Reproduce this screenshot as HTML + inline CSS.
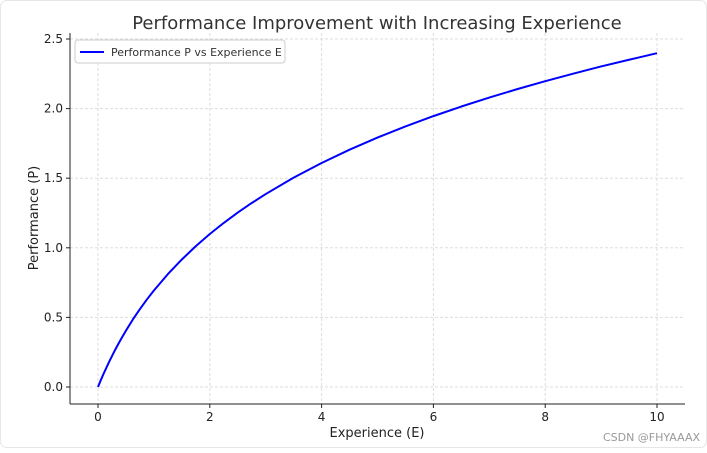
<!DOCTYPE html>
<html><head><meta charset="utf-8"><style>
body{margin:0;background:#fff;}
svg{font-family:"DejaVu Sans","Liberation Sans",sans-serif;}
</style></head><body>
<svg width="707" height="448" viewBox="0 0 707 448">
<rect x="0.5" y="0.5" width="706" height="447" fill="#fff" stroke="#e6e6e6" rx="6"/>
<text x="377" y="29" font-size="18" fill="#333" text-anchor="middle">Performance Improvement with Increasing Experience</text>
<g id="grid"></g>
<line x1="70" y1="33" x2="70" y2="404" stroke="#222"/>
<line x1="70" y1="404" x2="685" y2="404" stroke="#222"/>
<g id="ticks"></g>
<polyline id="line" fill="none" stroke="#0000ff" stroke-width="2" stroke-linejoin="round"/>
<text x="377" y="437" font-size="13" fill="#222" text-anchor="middle">Experience (E)</text>
<text transform="translate(38,218) rotate(-90)" font-size="13" fill="#222" text-anchor="middle">Performance (P)</text>
<g>
<rect x="75" y="40" width="210" height="23" rx="3" fill="#fff" stroke="#ccc"/>
<line x1="80" y1="52" x2="104" y2="52" stroke="#0000ff" stroke-width="2"/>
<text x="111" y="56" font-size="11" fill="#333">Performance P vs Experience E</text>
</g>
<text x="700" y="441" font-size="11" fill="#999" text-anchor="end">CSDN @FHYAAAX</text>
</svg>
<script>
const xs=[0,0.05,0.1,0.2,0.3,0.4,0.5,0.625,0.75,0.875,1,1.25,1.5,1.75,2,2.25,2.5,2.75,3,3.5,4,4.5,5,5.5,6,6.5,7,7.5,8,8.5,9,9.5,10];
const ys=[0,0.049,0.095,0.182,0.262,0.336,0.405,0.486,0.56,0.629,0.693,0.811,0.916,1.012,1.099,1.179,1.253,1.322,1.386,1.504,1.609,1.705,1.792,1.872,1.946,2.015,2.079,2.14,2.197,2.251,2.303,2.351,2.398];
const xTicks=[0,2,4,6,8,10];
const yTicks=[0,0.5,1,1.5,2,2.5];
const X=v=>98+v*55.9, Y=v=>387-v*139.2;
const ns="http://www.w3.org/2000/svg";
const grid=document.getElementById('grid'), ticks=document.getElementById('ticks');
function mk(tag,a,p){const e=document.createElementNS(ns,tag);for(const k in a)e.setAttribute(k,a[k]);p.appendChild(e);return e;}
xTicks.forEach(t=>{
 const g=mk('line',{x1:X(t),x2:X(t),y1:33,y2:404,stroke:'#ddd','stroke-dasharray':'3,2'},grid);
 
 
 const tk=mk('line',{x1:X(t),x2:X(t),y1:404,y2:408,stroke:'#222'},ticks);
 
 
 const l=mk('text',{x:X(t),y:421,'font-size':12,fill:'#222','text-anchor':'middle'},ticks);l.textContent=t;
 
 
});
yTicks.forEach(t=>{
 const g=mk('line',{x1:70,x2:685,y1:Y(t),y2:Y(t),stroke:'#ddd','stroke-dasharray':'3,2'},grid);
 
 
 const tk=mk('line',{x1:66,x2:70,y1:Y(t),y2:Y(t),stroke:'#222'},ticks);
 
 
 const l=mk('text',{x:63,y:Y(t)+4,'font-size':12,fill:'#222','text-anchor':'end'},ticks);l.textContent=t.toFixed(1);
 
 
});
document.getElementById('line').setAttribute('points',xs.map((x,i)=>X(x)+','+Y(ys[i])).join(' '));
</script>
</body></html>
